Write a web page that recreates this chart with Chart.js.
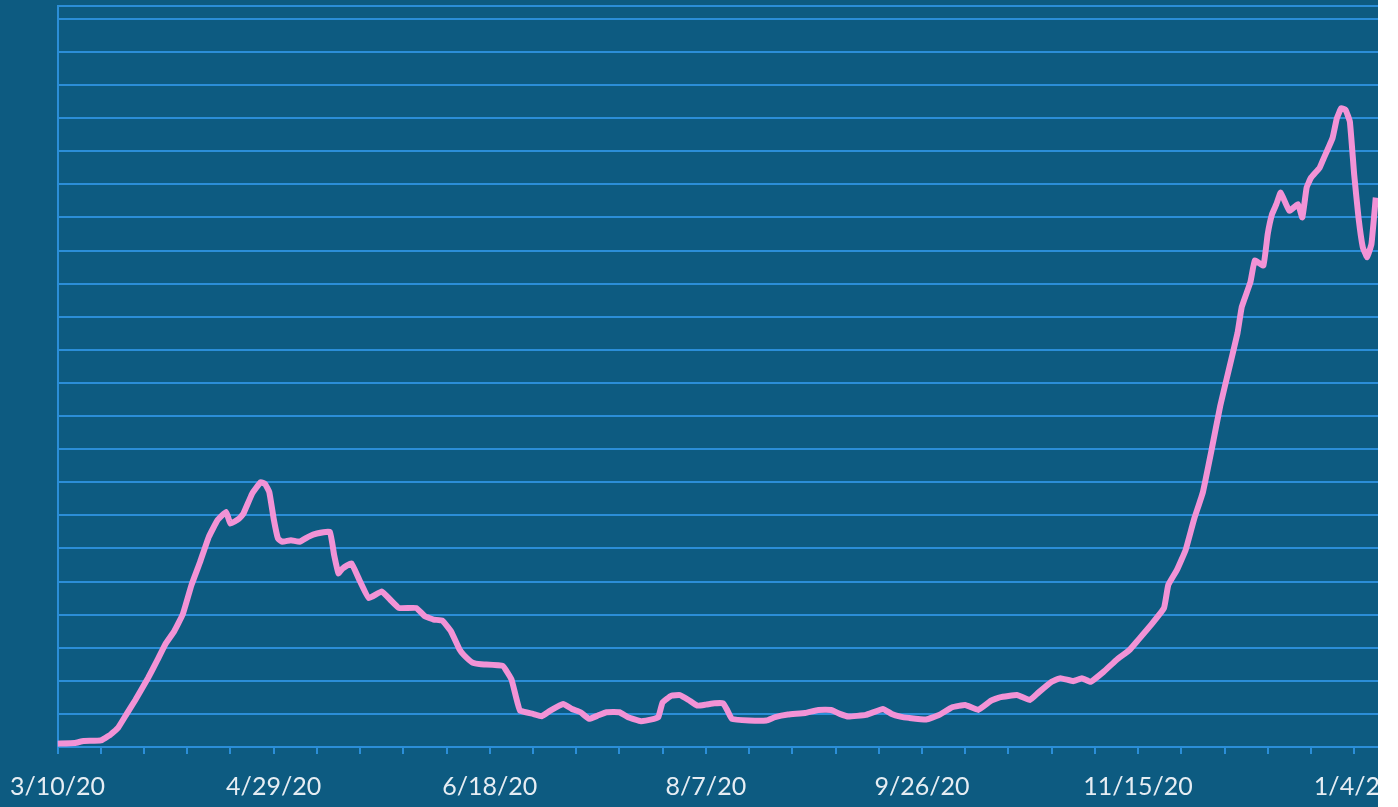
<!DOCTYPE html>
<html>
<head>
<meta charset="utf-8">
<script src="https://cdn.jsdelivr.net/npm/chart.js@4.4.1/dist/chart.umd.min.js"></script>
<style>
  html, body { margin: 0; padding: 0; background: #ffffff; }
  #wrap { width: 1378px; height: 807px; overflow: hidden; background: #0d5b81; }
  #chart { display: block; margin-left: -8px; }
</style>
</head>
<body>
<div id="wrap"><canvas id="chart" width="1445" height="807"></canvas></div>
<script>
// days since 3/10/20
const days = [
  0, 4, 6, 10, 12, 14, 16, 18, 21, 23, 25, 27, 29, 31, 33, 35, 37, 39, 40, 42,
  43, 45, 47, 48, 49, 50, 51, 52, 54, 56, 58, 60, 63, 64, 65, 66, 68, 70, 72, 75,
  77, 79, 83, 85, 87, 89, 91, 93, 94, 96, 98, 103, 105, 106, 107, 110, 112, 114, 117, 119,
  121, 123, 125, 127, 130, 132, 135, 138, 139, 140, 142, 144, 146, 148, 150, 152, 154, 155, 156, 160,
  164, 166, 169, 173, 176, 179, 181, 183, 187, 191, 193, 195, 197, 201, 204, 207, 210, 213, 216, 218,
  222, 225, 227, 230, 232, 235, 237, 239, 242, 245, 248, 250, 253, 256, 257, 259, 261, 263, 265, 267,
  269, 271, 273, 274, 276, 277, 279, 280, 281, 282, 283, 285, 287, 288, 289, 290, 292, 293, 295, 296,
  297, 298, 299, 300, 301, 302, 303, 304, 305
];
const values = [
  0.10, 0.12, 0.18, 0.20, 0.35, 0.58, 1.00, 1.42, 2.10, 2.60, 3.12, 3.50, 4.02, 4.90, 5.60, 6.35, 6.85, 7.10, 6.75, 6.90,
  7.05, 7.65, 8.00, 7.95, 7.70, 6.90, 6.30, 6.20, 6.25, 6.20, 6.35, 6.45, 6.50, 5.80, 5.25, 5.40, 5.55, 5.00, 4.50, 4.70,
  4.45, 4.20, 4.20, 3.95, 3.85, 3.82, 3.50, 2.95, 2.78, 2.55, 2.50, 2.45, 2.05, 1.55, 1.10, 1.00, 0.93, 1.10, 1.30, 1.15,
  1.05, 0.85, 0.95, 1.05, 1.05, 0.90, 0.78, 0.85, 0.90, 1.35, 1.55, 1.57, 1.42, 1.25, 1.28, 1.32, 1.32, 1.10, 0.85, 0.80,
  0.80, 0.90, 0.98, 1.03, 1.12, 1.12, 1.00, 0.92, 0.97, 1.15, 1.00, 0.92, 0.88, 0.83, 0.97, 1.20, 1.27, 1.12, 1.40, 1.50,
  1.57, 1.42, 1.65, 1.97, 2.08, 1.99, 2.08, 1.97, 2.27, 2.63, 2.93, 3.23, 3.69, 4.20, 4.90, 5.35, 5.95, 6.90, 7.70, 8.97,
  10.3, 11.4, 12.5, 13.3, 14.05, 14.7, 14.55, 15.5, 16.1, 16.4, 16.75, 16.2, 16.4, 16.0, 16.9, 17.2, 17.5, 17.8, 18.4, 19.0,
  19.3, 19.25, 18.9, 17.3, 16.0, 15.1, 14.8, 15.2, 16.6
];
// x-axis labels every 50 days
const tickDays = [0, 50, 100, 150, 200, 250, 300];
const tickLabels = ['3/10/20', '4/29/20', '6/18/20', '8/7/20', '9/26/20', '11/15/20', '1/4/21'];

const X_MAX = 315;
const Y_MAX = 22.39;
const GRID = '#2b8ed8';

const points = days.map((d, i) => ({ x: d, y: values[i] }));

const config = {
  type: 'line',
  data: {
    datasets: [{
      data: points,
      borderColor: '#f293d6',
      borderWidth: 6,
      pointRadius: 0,
      tension: 0.1,
      fill: false
    }]
  },
  options: {
    responsive: false,
    animation: false,
    events: [],
    layout: { padding: { left: 52, top: 6, right: 0, bottom: -13 } },
    plugins: {
      legend: { display: false },
      tooltip: { enabled: false }
    },
    scales: {
      x: {
        type: 'linear',
        min: 0,
        max: X_MAX,
        border: { display: true, color: GRID, width: 2 },
        grid: {
          drawOnChartArea: false,
          drawTicks: true,
          tickLength: 7,
          color: GRID,
          lineWidth: 2
        },
        ticks: {
          stepSize: 10,
          autoSkip: false,
          maxRotation: 0,
          padding: 18,
          color: '#e6edf3',
          font: { family: 'Lato', size: 25 },
          callback: function(value) {
            const i = tickDays.indexOf(value);
            return i >= 0 ? tickLabels[i] : '';
          }
        }
      },
      y: {
        min: 0,
        max: Y_MAX,
        border: { display: true, color: GRID, width: 2 },
        grid: { color: GRID, lineWidth: 2, drawTicks: false },
        ticks: { display: false, stepSize: 1 },
        afterBuildTicks: function(scale) {
          const t = [];
          for (let v = 0; v <= 22; v++) t.push({ value: v });
          t.push({ value: Y_MAX });
          scale.ticks = t;
        }
      }
    }
  }
};

const myChart = new Chart(document.getElementById('chart'), config);
</script>
</body>
</html>
